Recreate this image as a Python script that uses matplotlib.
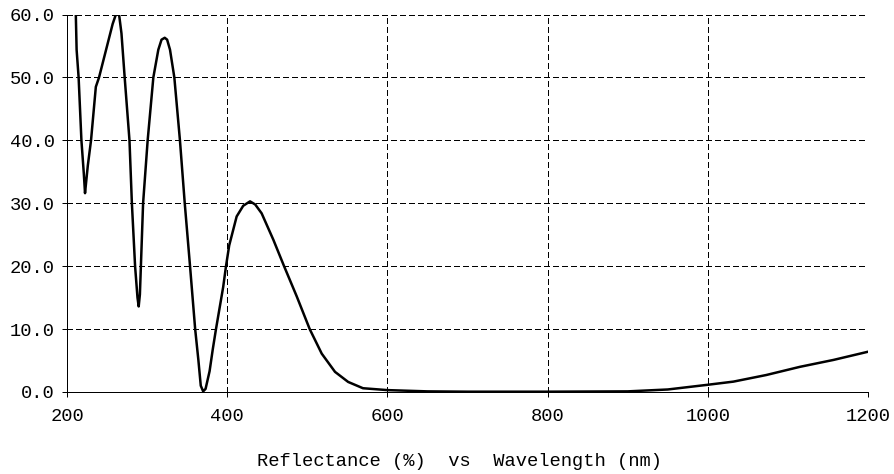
import matplotlib
matplotlib.use("Agg")
import matplotlib.pyplot as plt

# Wavelength (nm) / reflectance (%)
wavelength = [210, 211, 212, 214.5, 218, 221, 222.5, 224, 226, 230, 236, 240,
              250, 257, 261, 265, 268, 272, 278, 281, 285, 288, 289.5, 291,
              295, 300.7, 307.8, 314, 318, 322, 325, 328.6, 334, 341, 347,
              353.6, 360, 364, 367, 370, 373, 378, 382, 386, 395, 398.5,
              402.5, 411.8, 420, 428.5, 435, 443, 457.6, 471, 486.8, 503,
              518, 534.6, 551, 569.5, 600, 650, 700, 800, 900, 950, 1000,
              1032, 1073, 1115, 1157, 1200]
reflectance = [62.0, 60.0, 54.4, 50.0, 40.0, 34.7, 31.6, 33.5, 36.0, 40.0,
               48.5, 50.0, 55.0, 58.5, 60.0, 60.0, 57.0, 50.0, 40.0, 30.0,
               20.0, 15.0, 13.6, 15.5, 30.0, 40.0, 50.0, 54.4, 56.0, 56.3,
               56.0, 54.4, 50.0, 40.0, 30.0, 20.0, 10.0, 5.1, 1.0, 0.1, 0.5,
               3.3, 6.8, 10.0, 16.7, 20.0, 23.3, 27.9, 29.6, 30.3, 29.8,
               28.4, 24.2, 20.0, 15.2, 10.0, 6.1, 3.2, 1.6, 0.6, 0.3, 0.1,
               0.05, 0.05, 0.1, 0.4, 1.15, 1.65, 2.7, 4.0, 5.1, 6.4]

x_ticks = [200, 400, 600, 800, 1000, 1200]
y_ticks = [0, 10, 20, 30, 40, 50, 60]

plt.rcParams["font.family"] = ["Liberation Mono", "DejaVu Sans Mono"]
plt.rcParams["font.size"] = 13.5

fig = plt.figure(figsize=(8.95, 4.74), dpi=100)
ax = fig.add_axes([67 / 895, 1 - 392 / 474, 801 / 895, 377.5 / 474])

ax.plot(wavelength, reflectance, color="black", linewidth=1.8, clip_on=True)

ax.set_xlim(200, 1200)
ax.set_ylim(0, 60)
ax.set_xticks(x_ticks)
ax.set_xticklabels([str(v) for v in x_ticks])
ax.set_yticks(y_ticks)
ax.set_yticklabels(["%.1f" % v for v in y_ticks])

# dashed black grid, crisp like the original bitmap
ax.grid(True, color="black", linewidth=0.75, linestyle=(0, (5, 3)),
        antialiased=False)
ax.set_axisbelow(True)
for side in ("top", "right"):
    ax.spines[side].set_visible(False)
for side in ("left", "bottom"):
    ax.spines[side].set_linewidth(0.72)
    ax.spines[side].set_color("black")
    ax.spines[side].set_antialiased(False)

ax.tick_params(axis="both", direction="out", length=3.6, width=0.72,
               color="black", labelcolor="black")
ax.tick_params(axis="x", pad=8)
ax.tick_params(axis="y", pad=5)

fig.text(460 / 895, 1 - 461.7 / 474, "Reflectance (%)  vs  Wavelength (nm)",
         ha="center", va="center")

fig.savefig("out.png", dpi=100)
